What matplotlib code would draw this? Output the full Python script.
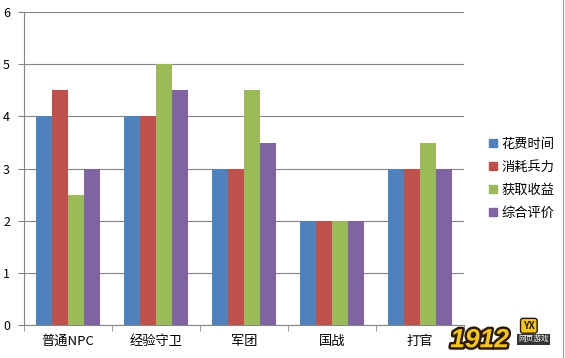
import numpy as np
import matplotlib.pyplot as plt
import matplotlib.patheffects as pe
from matplotlib.lines import Line2D

plt.rcParams['font.family'] = ['Noto Sans CJK SC', 'DejaVu Sans']

categories = ["普通NPC", "经验守卫", "军团", "国战", "打官"]
series_names = ["花费时间", "消耗兵力", "获取收益", "综合评价"]
spend_time = [4, 4, 3, 2, 3]
troop_cost = [4.5, 4, 3, 2, 3]
gain = [2.5, 5, 4.5, 2, 3.5]
overall = [3, 4.5, 3.5, 2, 3]

COLORS = ["#4F81BD", "#C0504D", "#9BBB59", "#8064A2"]

fig = plt.figure(figsize=(5.65, 3.58), dpi=100)
ax = fig.add_axes([0.0425, 0.092, 0.779, 0.874])

x = np.arange(len(categories))
bar_w = 0.182
values = [spend_time, troop_cost, gain, overall]
for i, (vals, name) in enumerate(zip(values, series_names)):
    ax.bar(x + (i - 1.5) * bar_w, vals, bar_w, color=COLORS[i], label=name, zorder=3)

ax.set_xlim(-0.5, len(categories) - 0.5)
ax.set_ylim(0, 6)
ax.set_yticks(range(7))
ax.yaxis.grid(True, color="#868686", linewidth=0.8, zorder=0)
ax.set_xticks(x)
ax.set_xticklabels(categories, fontsize=9.5)
ax.set_xticks(np.arange(len(categories) + 1) - 0.5, minor=True)
ax.tick_params(axis="x", which="major", length=0, pad=7)
ax.tick_params(axis="x", which="minor", length=4, color="#868686")
ax.tick_params(axis="y", length=4, color="#868686", labelsize=9, pad=6)
for s in ["top", "right"]:
    ax.spines[s].set_visible(False)
ax.spines["left"].set_color("#868686")
ax.spines["bottom"].set_color("#868686")

handles = [plt.Rectangle((0, 0), 1, 1, color=c) for c in COLORS]
fig.legend(handles, series_names, loc="upper left", bbox_to_anchor=(0.845, 0.648),
           frameon=False, fontsize=9.5, handlelength=0.6, handleheight=0.6,
           handletextpad=0.3, labelspacing=0.75)

# watermark
fig.text(0.797, 0.03, "1912", fontsize=19, fontweight="bold", style="italic",
         family="Liberation Sans", color="#F5C518",
         path_effects=[pe.withStroke(linewidth=3.5, foreground="#2a1a00")])
fig.text(0.936, 0.09, "YX", fontsize=7, fontweight="bold", color="#2a1a00",
         ha="center", va="center",
         bbox=dict(boxstyle="round,pad=0.25", fc="#F5C518", ec="#2a1a00"))
fig.text(0.944, 0.052, "网页游戏", fontsize=5.5, color="white", ha="center", va="center",
         bbox=dict(boxstyle="square,pad=0.15", fc="#333333", ec="none"))

fig.add_artist(Line2D([0.996, 0.996], [0, 1], color="#9a9a9a", linewidth=0.8))

fig.savefig("out.png", dpi=100)
